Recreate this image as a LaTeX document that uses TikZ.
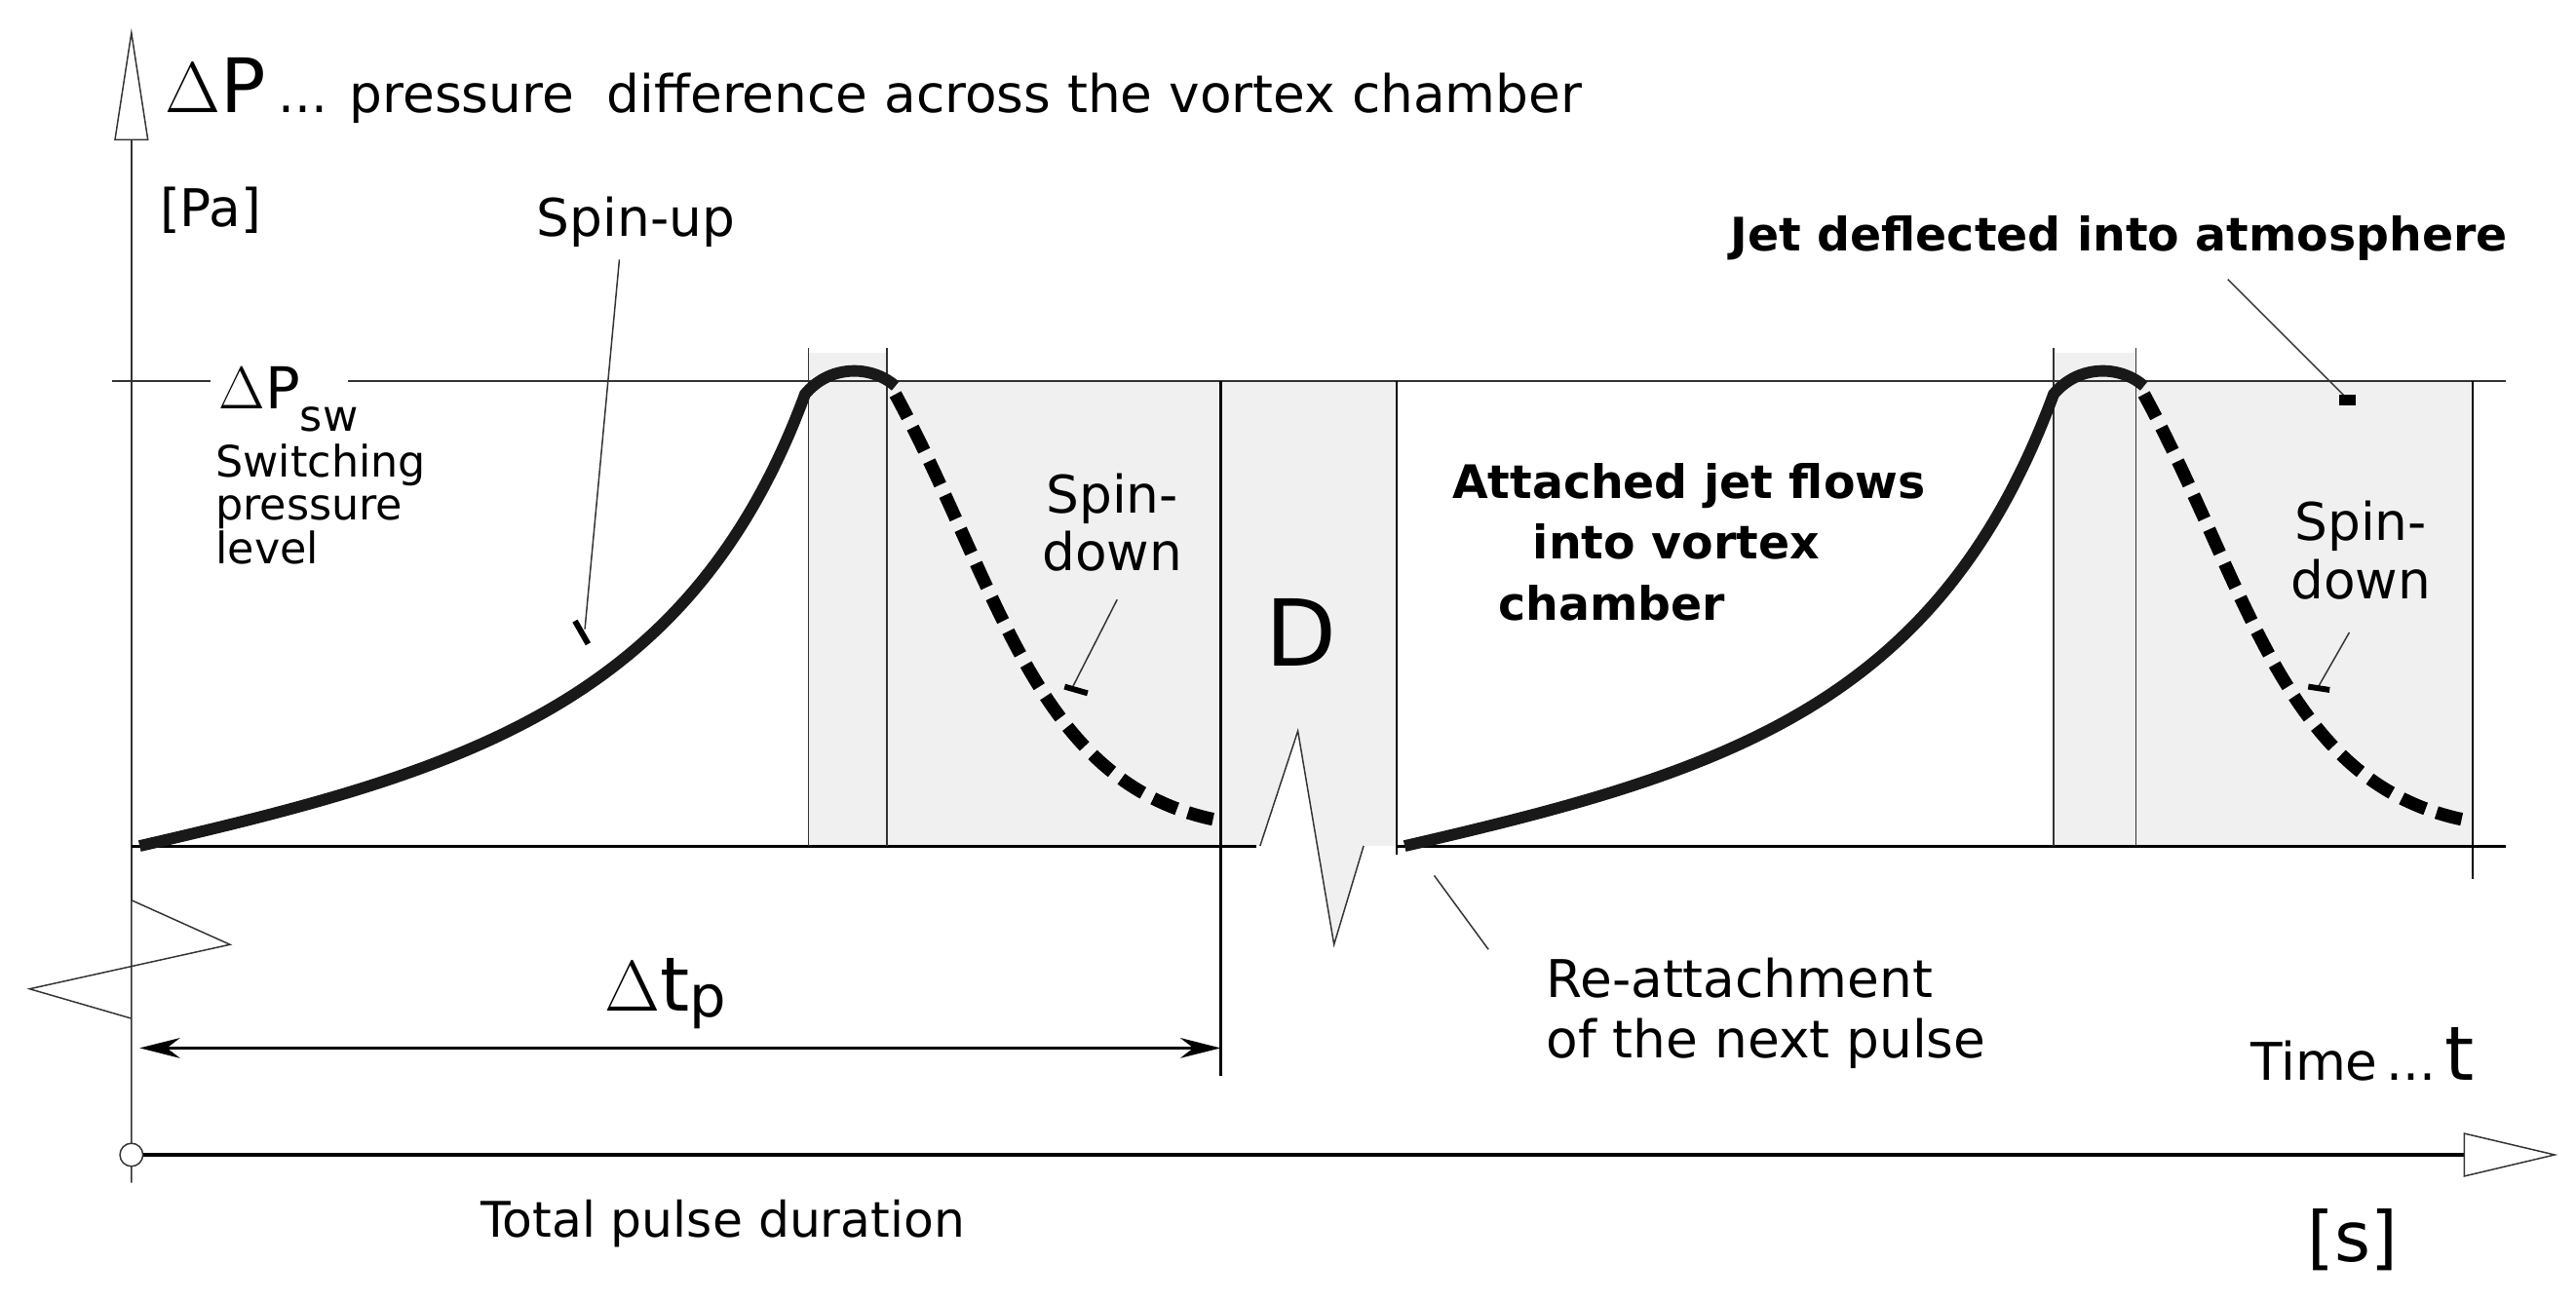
\documentclass[tikz,border=0pt]{standalone}
\usepackage{fontspec}
\setmainfont{DejaVu Sans}
\usetikzlibrary{arrows.meta}
\newcommand{\fs}[1]{\fontsize{#1}{\numexpr #1*6/5\relax}\selectfont}
\begin{document}
\begin{tikzpicture}[x=0.02cm,y=-0.02cm,
  thin/.style={line width=0.5pt,black!80},
  curve/.style={line width=4pt,black!90},
  dcurve/.style={line width=4.5pt,black,dash pattern=on 9pt off 4pt},
  lab/.style={inner sep=0pt,align=left},
  shade/.style={fill=black!6}]
\useasboundingbox (0,0) rectangle (1568,792);
% shaded regions
\fill[shade] (492,215) rectangle (540,515);
\fill[shade] (540,232) rectangle (743,515);
\fill[shade] (1250,215) rectangle (1300,515);
\fill[shade] (1300,232) rectangle (1505,515);
\fill[shade] (743,232) -- (850,232) -- (850,515) -- (830,515) -- (812,575) -- (790,445) -- (767,515) -- (743,515) -- cycle;
\draw[thin] (767,515) -- (790,445) -- (812,575) -- (830,515);
% axes
\draw[thin] (80,720) -- (80,548) -- (140,575) -- (18,602) -- (80,620);
\draw[thin] (80,548) -- (80,85);
\draw[thin,fill=white] (80,85) -- (70,85) -- (80,20) -- (90,85) -- (80,85);
\draw[line width=1.2pt] (80,703) -- (1500,703);
\draw[thin,fill=white] (1500,690) -- (1555,703) -- (1500,716) -- cycle;
\draw[thin,fill=white] (80,703) circle (7);
% levels
\draw[thin] (68,232) -- (128,232);
\draw[thin] (212,232) -- (1525,232);
\draw[line width=1pt] (80,515) -- (765,515);
\draw[line width=1pt] (850,515) -- (1525,515);
% verticals
\foreach \x in {492,540,1250,1300} \draw[thin] (\x,212) -- (\x,515);
\draw[line width=0.8pt] (743,232) -- (743,655);
\draw[line width=0.8pt] (850,232) -- (850,520);
\draw[line width=0.8pt] (1505,232) -- (1505,535);
% curves
\draw[curve] (85,515) .. controls (280,470) and (420,430) .. (490,240) .. controls (505,222) and (530,222) .. (545,235);
\draw[dcurve] (545,240) .. controls (610,360) and (630,480) .. (745,500);
\draw[curve] (855,515) .. controls (1050,470) and (1180,430) .. (1250,240) .. controls (1265,222) and (1290,222) .. (1305,235);
\draw[dcurve] (1305,240) .. controls (1370,360) and (1390,480) .. (1505,500);
% dimension
\draw[line width=0.8pt,{Stealth[length=14pt,width=7pt]}-{Stealth[length=14pt,width=7pt]}] (85,638) -- (743,638);
\node[lab] (dt) at (405,605) {\fs{26}$\Delta$t\raisebox{-2pt}{\fs{20}p}};
% texts
\node[lab,anchor=west] (title) at (100,55) {\fs{26}$\Delta$P\,\fs{18}... pressure \ difference across the vortex chamber};
\node[lab,anchor=west] (pa) at (97,128) {\fs{18}[Pa]};
\node[lab] (su) at (387,135) {\fs{18}Spin-up};
\coordinate (su1) at (377,158);
\coordinate (su2) at (356,383);
\draw[thin] (su1) -- (su2);
\draw[line width=2pt] (350,378) -- (358,392);
\node[lab,anchor=west] (psw) at (133,243) {\fs{20}$\Delta$P\raisebox{-8pt}{\fs{15}sw}};
\node[lab,anchor=north west,font=\fs{15}] (swl) at (131,270) {Switching\\[-3pt]pressure\\[-3pt]level};
\node[lab,align=center,font=\fs{18}] (sd1) at (677,318) {Spin-\\[-2pt]down};
\coordinate (sd1a) at (680,365);
\coordinate (sd1b) at (652,420);
\draw[thin] (sd1a) -- (sd1b);
\draw[line width=2pt] (648,418) -- (662,422);
\node[lab] (D) at (792,385) {\fs{32}D};
\node[lab,align=left,font=\fs{16}\bfseries] (att) at (1028,330) {Attached jet flows\\[2pt]\hspace*{28pt}into vortex\\[2pt]\hspace*{16pt}chamber};
\node[lab,font=\fs{16}\bfseries] (jet) at (1290,145) {Jet deflected into atmosphere};
\coordinate (j1) at (1356,170);
\coordinate (j2) at (1428,242);
\draw[thin] (j1) -- (j2);
\fill (1424,240) rectangle (1434,247);
\node[lab,align=center,font=\fs{18}] (sd2) at (1437,335) {Spin-\\[-2pt]down};
\coordinate (sd2a) at (1430,385);
\coordinate (sd2b) at (1410,420);
\draw[thin] (sd2a) -- (sd2b);
\draw[line width=2pt] (1405,418) -- (1418,420);
\node[lab,align=left,font=\fs{18}] (re) at (1075,617) {Re-attachment\\[-1pt]of the next pulse};
\coordinate (r1) at (906,578);
\coordinate (r2) at (873,533);
\draw[thin] (r1) -- (r2);
\node[lab] (time) at (1438,642) {\fs{18}Time\,...\,\fs{26}t};
\node[lab] (tpd) at (440,745) {\fs{17}Total pulse duration};
\node[lab] (s) at (1432,755) {\fs{24}[s]};
\end{tikzpicture}
\end{document}
